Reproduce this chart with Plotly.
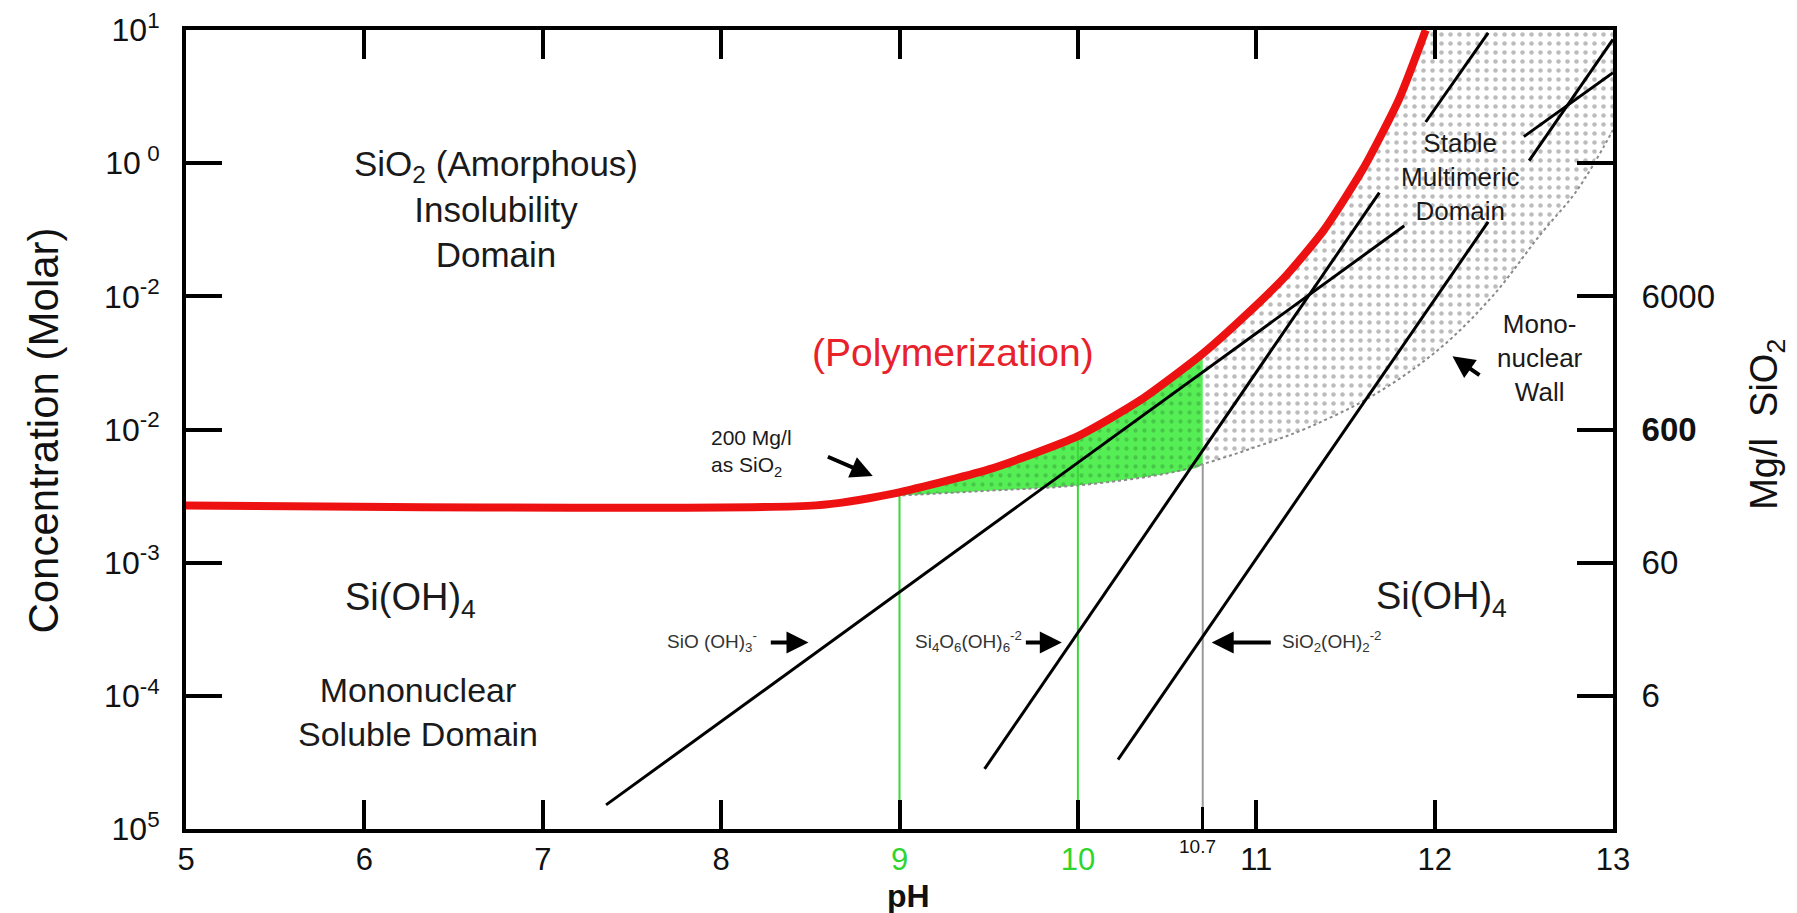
import plotly.graph_objects as go

# ---------------- axis data ----------------
x_range = [5, 13]
y_log_range = [-5.001, 1.001]

ph_ticks = [5, 6, 7, 8, 9, 10, 11, 12, 13]
ph_tick_text = ["5", "6", "7", "8",
                '<span style="color:#2fd52f">9</span>',
                '<span style="color:#2fd52f">10</span>',
                "11", "12", "13"]
conc_ticks = [1e1, 1e0, 1e-1, 1e-2, 1e-3, 1e-4, 1e-5]
conc_tick_text = ["10<sup>1</sup>", "10<sup> 0</sup>", "10<sup>-2</sup>", "10<sup>-2</sup>",
                  "10<sup>-3</sup>", "10<sup>-4</sup>", "10<sup>5</sup>"]
mgl_ticks = [1e0, 1e-1, 1e-2, 1e-3, 1e-4]
mgl_tick_text = ["", "6000", "<b>600</b>", "60", "6"]
short_tick_ph = [10.7]

# ---------------- curve data (pH, log10 molar) ----------------
red_ph = [5.0, 8.53, 8.95, 9.5, 10.0, 10.35, 10.7, 10.95, 11.17, 11.38, 11.6, 11.8, 11.95]
red_log = [-2.57, -2.57, -2.485, -2.30, -2.05, -1.78, -1.43, -1.13, -0.84, -0.50, -0.04, 0.48, 1.0]

wall_ph = [8.95, 9.5, 10.0, 10.5, 10.7, 11.0, 11.3, 11.66, 12.03, 12.33, 12.59, 12.8, 13.0]
wall_log = [-2.50, -2.46, -2.42, -2.33, -2.26, -2.13, -1.98, -1.74, -1.39, -0.99, -0.54, -0.2, 0.25]

green_ph_lo, green_ph_hi = 8.95, 10.7

lineA_ph = [7.355, 11.83, None, 12.50, 13.0]       # SiO(OH)3-
lineA_log = [-4.82, -0.47, None, 0.20, 0.68]
lineB_ph = [9.477, 11.69, None, 11.95, 12.30]      # Si4O6(OH)6-2
lineB_log = [-4.55, -0.22, None, 0.31, 0.98]
lineC_ph = [10.225, 12.30, None, 12.53, 13.0]      # SiO2(OH)2-2
lineC_log = [-4.48, -0.44, None, 0.02, 0.93]

marker_ph = [9.0, 10.0, 10.7]
marker_top_log = [-2.47, -2.05, -2.26]
marker_colors = ["#3ad83a", "#3ad83a", "#9a9a9a"]
plot_bottom_log = -5.0
plot_top_log = 1.0


def molar(logs):
    return [None if v is None else 10 ** v for v in logs]


FONT = "Liberation Sans, Arial, Helvetica, sans-serif"
fig = go.Figure()

# green polymerization region
g_top = [(p, l) for p, l in zip(red_ph, red_log) if green_ph_lo <= p <= green_ph_hi]
g_bot = [(p, l) for p, l in zip(wall_ph, wall_log) if green_ph_lo <= p <= green_ph_hi][::-1]
poly = g_top + g_bot
fig.add_trace(go.Scatter(
    x=[p for p, _ in poly], y=molar([l for _, l in poly]),
    mode="lines", fill="toself", line=dict(width=0, shape="spline", smoothing=0.6),
    fillcolor="#52ec52",
    fillpattern=dict(shape=".", size=9, solidity=0.18, fgcolor="#3a9f3a", bgcolor="#55ee55"),
    hoverinfo="skip", showlegend=False))

# dotted stable multimeric domain
d_top = [(p, l) for p, l in zip(red_ph, red_log) if p >= green_ph_hi]
d_corner = [(x_range[1], plot_top_log)]
d_bot = [(p, l) for p, l in zip(wall_ph, wall_log) if p >= green_ph_hi][::-1]
poly = d_top + d_corner + d_bot
fig.add_trace(go.Scatter(
    x=[p for p, _ in poly], y=molar([l for _, l in poly]),
    mode="lines", fill="toself", line=dict(width=0),
    fillcolor="white",
    fillpattern=dict(shape=".", size=9, solidity=0.2, fgcolor="#7a7a7a", bgcolor="white"),
    hoverinfo="skip", showlegend=False))

# mononuclear wall
fig.add_trace(go.Scatter(x=wall_ph, y=molar(wall_log), mode="lines",
                         line=dict(color="#8a8a8a", width=2, dash="dot", shape="spline"),
                         hoverinfo="skip", showlegend=False))

# vertical marker lines
for p, t, c in zip(marker_ph, marker_top_log, marker_colors):
    fig.add_trace(go.Scatter(x=[p, p], y=[10 ** plot_bottom_log, 10 ** t], mode="lines",
                             line=dict(color=c, width=2), hoverinfo="skip", showlegend=False))

# species lines
for xs, ys in [(lineA_ph, lineA_log), (lineB_ph, lineB_log), (lineC_ph, lineC_log)]:
    fig.add_trace(go.Scatter(x=xs, y=molar(ys), mode="lines", connectgaps=False,
                             line=dict(color="black", width=3), hoverinfo="skip", showlegend=False))

# amorphous silica solubility (red) -- drawn on the overlay axes (same ranges) so it is on top
fig.add_trace(go.Scatter(x=red_ph, y=molar(red_log), mode="lines", xaxis="x2", yaxis="y2",
                         line=dict(color="#ee1111", width=8, shape="spline", smoothing=0.6),
                         hoverinfo="skip", showlegend=False))

# ---------------- text ----------------
def txt(x, y, s, size, color="#1a1a1a", xanchor="center", align="center"):
    fig.add_annotation(x=x, y=y, xref="x", yref="y", text=s, showarrow=False,
                       font=dict(family=FONT, size=size, color=color), xanchor=xanchor,
                       yanchor="middle", align=align)

def arrow(x0, y0, x1, y1):
    fig.add_annotation(x=x1, y=y1, ax=x0, ay=y0, xref="x", yref="y", axref="x", ayref="y",
                       text="", showarrow=True, arrowhead=2, arrowsize=1.1, arrowwidth=4,
                       arrowcolor="black")

txt(6.74, -0.34, "SiO<sub>2</sub> (Amorphous)<br>Insolubility<br>Domain", 35)

txt(9.30, -1.42, "(Polymerization)", 39, color="#e8212b")

txt(12.14, -0.10, "Stable<br>Multimeric<br>Domain", 26)

txt(12.59, -1.46, "Mono-<br>nuclear<br>Wall", 26)
arrow(12.26, -1.60, 12.10, -1.45)

txt(7.93, -2.175, "200 Mg/l<br>as SiO<sub>2</sub>", 21, xanchor="left", align="left")
arrow(8.59, -2.20, 8.85, -2.35)

txt(7.95, -3.59, "SiO (OH)<sub>3</sub><sup>-</sup>", 19, color="#333333")
arrow(8.27, -3.60, 8.49, -3.60)
txt(9.385, -3.59, "Si<sub>4</sub>O<sub>6</sub>(OH)<sub>6</sub><sup>-2</sup>", 19, color="#333333")
arrow(9.70, -3.60, 9.91, -3.60)
txt(11.42, -3.59, "SiO<sub>2</sub>(OH)<sub>2</sub><sup>-2</sup>", 19, color="#333333")
arrow(11.09, -3.60, 10.75, -3.60)

txt(6.26, -3.28, "Si(OH)<sub>4</sub>", 38)
txt(6.30, -4.12, "Mononuclear<br>Soluble Domain", 34)
txt(12.04, -3.27, "Si(OH)<sub>4</sub>", 38)

# axis titles and extra label
fig.add_annotation(x=-0.100, y=0.499, xref="paper", yref="paper", text="Concentration (Molar)",
                   textangle=-90, showarrow=False, xanchor="center", yanchor="middle",
                   font=dict(family=FONT, size=42, color="#111"))
fig.add_annotation(x=1.108, y=0.506, xref="paper", yref="paper", text="Mg/l  SiO<sub>2</sub>",
                   textangle=-90, showarrow=False, xanchor="center", yanchor="middle",
                   font=dict(family=FONT, size=38, color="#111"))
fig.add_annotation(x=9.05, y=-0.084, xref="x", yref="paper", text="<b>pH</b>",
                   showarrow=False, yanchor="middle", font=dict(family=FONT, size=32, color="#111"))
fig.add_annotation(x=10.67, y=-0.022, xref="x", yref="paper", text="10.7",
                   showarrow=False, yanchor="middle", font=dict(family=FONT, size=19, color="#111"))

axis_common = dict(showgrid=False, zeroline=False, linecolor="black", linewidth=4,
                   ticks="inside", tickcolor="black", tickwidth=4, ticklabeloverflow="allow",
                   automargin=False)

fig.update_layout(
    width=1797, height=913,
    margin=dict(l=178, r=192, t=22, b=92, autoexpand=False),
    paper_bgcolor="white", plot_bgcolor="white",
    showlegend=False,
    xaxis=dict(range=x_range, tickvals=ph_ticks, ticktext=ph_tick_text, ticklen=29,
               mirror="ticks", showline=True, ticklabelstandoff=0,
               tickfont=dict(family=FONT, size=31, color="#111"), **axis_common),
    xaxis2=dict(range=x_range, overlaying="x", anchor="y", side="bottom", automargin=False,
                tickvals=short_tick_ph, ticklen=22, showticklabels=False, showline=False,
                showgrid=False, zeroline=False, ticks="inside", tickcolor="black", tickwidth=3),
    yaxis=dict(type="log", range=y_log_range, tickvals=conc_ticks, ticktext=conc_tick_text,
               ticklen=36, showline=True, ticklabelstandoff=16,
               tickfont=dict(family=FONT, size=32, color="#111"), **axis_common),
    yaxis2=dict(type="log", range=y_log_range, overlaying="y", side="right", anchor="x",
                tickvals=mgl_ticks, ticktext=mgl_tick_text, ticklen=36, showline=True,
                ticklabelstandoff=18, tickfont=dict(family=FONT, size=33, color="#111"),
                **axis_common),
)

fig.write_html("out.html")
